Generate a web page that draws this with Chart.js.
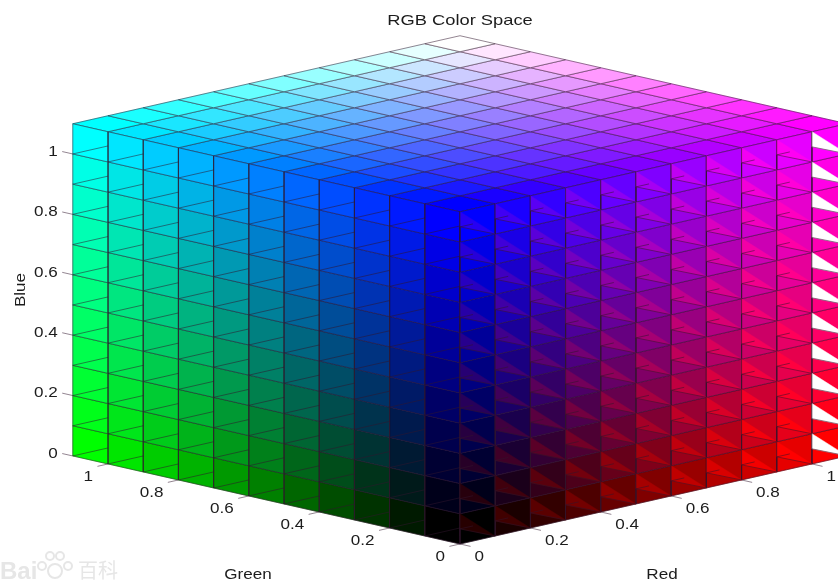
<!DOCTYPE html>
<html>
<head>
<meta charset="utf-8">
<title>RGB Color Space</title>
<script src="https://cdn.jsdelivr.net/npm/chart.js@4/dist/chart.umd.min.js"></script>
<style>
  html, body { margin: 0; padding: 0; background: #fff; }
  canvas { display: block; filter: blur(0.35px); }
</style>
</head>
<body>
<canvas id="cube" width="838" height="584"></canvas>
<script>
// grid planes of the cube, axes run to 1.1
const gridLevels = [0, 0.1, 0.2, 0.3, 0.4, 0.5, 0.6, 0.7, 0.8, 0.9, 1, 1.1];
// colour value (0-255) of the cell starting at each grid plane
const cellShades = [0, 26, 51, 77, 102, 128, 153, 179, 204, 230, 255];
const tickValues = [0, 0.2, 0.4, 0.6, 0.8, 1];
const tickLabels = ['0', '0.2', '0.4', '0.6', '0.8', '1'];
const titleText = 'RGB Color Space';
const axisNames = ['Red', 'Green', 'Blue'];

const EDGE = 'rgba(48,22,44,0.52)';
const TEXT = '#1c1c1c';
const N = cellShades.length;

// oblique view of (r,g,b) onto the two linear scales
function project(r, g, b) {
    return { x: r - g, y: b + 0.265 * (r + g) };
}

function rgb(r, g, b) {
    return `rgb(${r},${g},${b})`;
}

function shade(i) {
    return cellShades[Math.max(0, Math.min(N - 1, i))];
}

let polygons = [];
let extraLines = [];

function addPolygon(points, color, hasBorder) {
    polygons.push({
        data: points.map(p => project(p[0], p[1], p[2])),
        backgroundColor: color,
        polygonFill: true,
        borderColor: hasBorder ? EDGE : 'transparent',
        borderWidth: hasBorder ? 1 : 0,
        pointRadius: 0,
        tension: 0
    });
}

function addLine(from, to) {
    extraLines.push(project(from[0], from[1], from[2]));
    extraLines.push(project(to[0], to[1], to[2]));
    extraLines.push({ x: NaN, y: NaN });
}

const L = gridLevels;

for (let i = 0; i < N; i++) {
    for (let k = 0; k < N; k++) {
        // green side, r = 0
        addPolygon([[0, L[i], L[k]], [0, L[i + 1], L[k]], [0, L[i + 1], L[k + 1]], [0, L[i], L[k + 1]], [0, L[i], L[k]]],
            rgb(0, shade(i), shade(k)), true);
        // red side, g = 0
        addPolygon([[L[i], 0, L[k]], [L[i + 1], 0, L[k]], [L[i + 1], 0, L[k + 1]], [L[i], 0, L[k + 1]], [L[i], 0, L[k]]],
            rgb(shade(i), 0, shade(k)), true);
        // top, b = 1.1
        addPolygon([[L[i], L[k], L[N]], [L[i + 1], L[k], L[N]], [L[i + 1], L[k + 1], L[N]], [L[i], L[k + 1], L[N]], [L[i], L[k], L[N]]],
            rgb(shade(i), shade(k), 255), true);
    }
}

// the render glitch on the red side: a sliver in every cell, gaps in the last column
for (let i = 0; i < N; i++) {
    for (let k = 0; k < N; k++) {
        const mid = (L[k] + L[k + 1]) / 2;
        const red = Math.round((shade(i + 1) + shade(i + 2)) / 2);
        const blue = Math.round((shade(k) + shade(k - 1)) / 2);
        const color = i === N - 1 ? '#ffffff' : rgb(red, 0, blue);
        addPolygon([[L[i], 0, L[k + 1]], [L[i], 0, mid], [L[i + 1], 0, L[k]], [L[i], 0, L[k + 1]]], color, false);
        addLine([L[i], 0, mid], [L[i + 1], 0, L[k]]);
        addLine([L[i], 0, L[k]], [L[i], 0, L[k + 1]]);
        if (i < N - 1) addLine([L[i], 0, mid], [L[i] + 0.037, 0, mid]);
    }
}

// stray back edges on the green side
for (let i = 1; i <= N; i++) {
    for (let k = 0; k < N; k++) {
        addLine([0, L[i], L[k]], [0, L[i - 1], L[k] + 0.053]);
    }
}

// tick marks
tickValues.forEach(v => {
    addLine([v, 0, 0], [v, -0.03, 0]);
    addLine([0, v, 0], [-0.03, v, 0]);
    addLine([0, L[N], v], [0, L[N] + 0.03, v]);
});

const datasets = [
    ...polygons,
    { data: extraLines, borderColor: EDGE, borderWidth: 1, pointRadius: 0, tension: 0, spanGaps: false }
].reverse(); // chart.js paints dataset 0 last

function stretchedText(ctx, text, x, y, size, align, angle) {
    ctx.save();
    ctx.translate(x, y);
    if (angle) ctx.rotate(angle);
    ctx.scale(1.22, 1);
    ctx.font = `${size}px "Liberation Sans"`;
    ctx.textAlign = align;
    ctx.textBaseline = 'middle';
    ctx.fillText(text, 0, 0);
    ctx.restore();
}

const polygonFill = {
    id: 'polygonFill',
    beforeDatasetDraw(chart, args) {
        const ds = chart.data.datasets[args.index];
        if (!ds.polygonFill) return;
        const ctx = chart.ctx;
        ctx.save();
        ctx.beginPath();
        args.meta.data.forEach((pt, i) => i ? ctx.lineTo(pt.x, pt.y) : ctx.moveTo(pt.x, pt.y));
        ctx.closePath();
        ctx.fillStyle = ds.backgroundColor;
        ctx.strokeStyle = ds.backgroundColor;
        ctx.lineWidth = 0.5;
        ctx.fill();
        ctx.stroke();
        ctx.restore();
    }
};

function drawWatermark(ctx) {
    ctx.fillStyle = '#e6e6e6';
    ctx.strokeStyle = '#e6e6e6';
    ctx.textBaseline = 'alphabetic';
    ctx.textAlign = 'left';
    ctx.font = 'bold 24px "Liberation Sans"';
    ctx.fillText('Bai', 0, 579);
    ctx.font = '20px "Noto Sans CJK SC"';
    ctx.fillText('百科', 78, 578);
    // paw
    ctx.lineWidth = 2;
    [[42, 566, 4], [50, 556, 4], [60, 556, 4], [68, 566, 4], [55, 571, 7]].forEach(c => {
        ctx.beginPath();
        ctx.arc(c[0], c[1], c[2], 0, Math.PI * 2);
        ctx.stroke();
    });
}

const cubeText = {
    id: 'cubeText',
    afterDraw(chart) {
        const ctx = chart.ctx;
        const sx = chart.scales.x, sy = chart.scales.y;
        const at = (r, g, b) => {
            const p = project(r, g, b);
            return [sx.getPixelForValue(p.x), sy.getPixelForValue(p.y)];
        };
        ctx.save();
        drawWatermark(ctx);
        ctx.fillStyle = TEXT;
        tickValues.forEach((v, i) => {
            let p = at(v, 0, 0);
            stretchedText(ctx, tickLabels[i], p[0] + 14.5, p[1] + 13, 14, 'left');
            p = at(0, v, 0);
            stretchedText(ctx, tickLabels[i], p[0] - 15, p[1] + 13, 14, 'right');
            p = at(0, L[N], v);
            stretchedText(ctx, tickLabels[i], p[0] - 15, p[1] - 2, 14, 'right');
        });
        stretchedText(ctx, titleText, 460, 21, 15, 'center');
        stretchedText(ctx, axisNames[0], 662, 575, 14, 'center');
        stretchedText(ctx, axisNames[1], 248, 575, 14, 'center');
        stretchedText(ctx, axisNames[2], 21, 290, 14, 'center', -Math.PI / 2);
        ctx.restore();
    }
};

new Chart(document.getElementById('cube').getContext('2d'), {
    type: 'line',
    data: { datasets },
    options: {
        responsive: false,
        animation: false,
        events: [],
        layout: { padding: 0 },
        plugins: { legend: { display: false }, tooltip: { enabled: false }, title: { display: false } },
        scales: {
            x: { type: 'linear', display: false, min: -1.3068, max: 1.0739 },
            y: { type: 'linear', display: false, min: -0.1325, max: 1.8013 }
        }
    },
    plugins: [polygonFill, cubeText]
});
</script>
</body>
</html>
